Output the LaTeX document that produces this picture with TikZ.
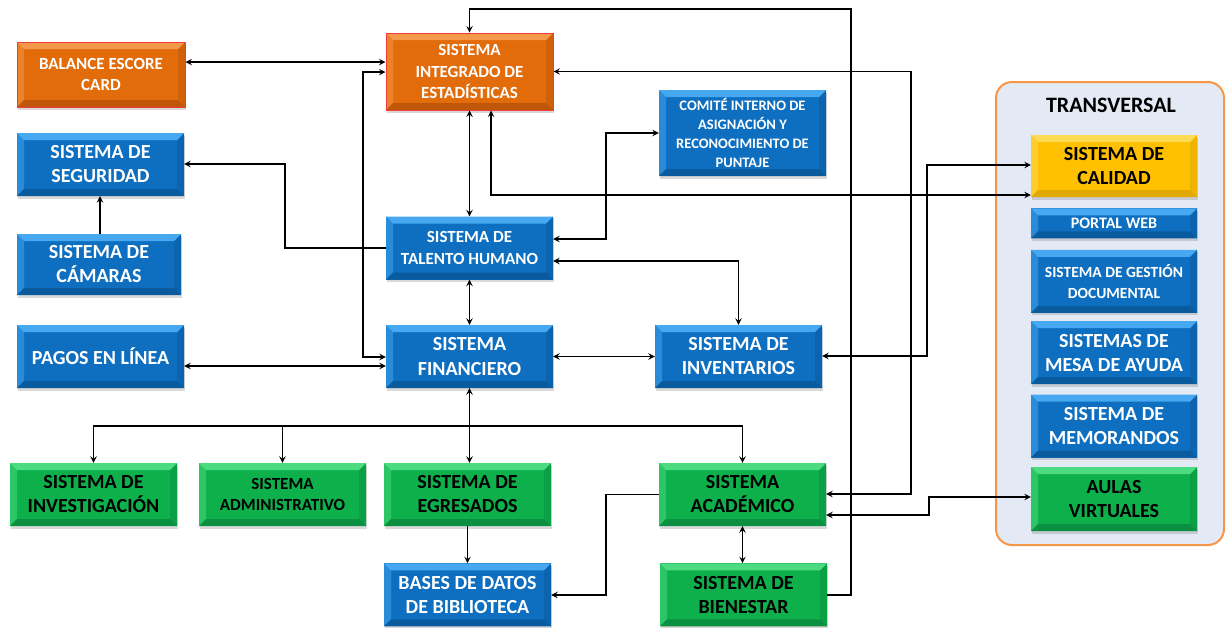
\documentclass[tikz,border=0pt]{standalone}
\usepackage{fontspec}
\setmainfont{Carlito}
\usetikzlibrary{positioning,shadows}

\definecolor{sysblue}{HTML}{0E6FC1}
\definecolor{sysbluetop}{HTML}{45A8F0}
\definecolor{sysbluebot}{HTML}{0A5A9E}
\definecolor{sysorange}{HTML}{E26B0A}
\definecolor{sysorangetop}{HTML}{F39A4A}
\definecolor{sysorangebot}{HTML}{C0560A}
\definecolor{sysred}{HTML}{F23A3A}
\definecolor{sysgreen}{HTML}{0DB04B}
\definecolor{sysgreentop}{HTML}{4DDB82}
\definecolor{sysgreenbot}{HTML}{0A9040}
\definecolor{sysyellow}{HTML}{FFC000}
\definecolor{sysyellowtop}{HTML}{FFDA55}
\definecolor{sysyellowbot}{HTML}{E0A800}
\definecolor{transfill}{HTML}{E4EAF5}
\definecolor{transline}{HTML}{F79646}

\begin{document}
\begin{tikzpicture}[x=1pt,y=-1pt]
		\tikzset{bevel/.style n args={3}{fill=#1,
								path picture={
									\fill[#2!50!#1] (path picture bounding box.north west) -- ([shift={(7pt,-7pt)}]path picture bounding box.north west) -- ([shift={(7pt,7pt)}]path picture bounding box.south west) -- (path picture bounding box.south west) -- cycle;
									\fill[#3!50!#1] (path picture bounding box.north east) -- ([shift={(-7pt,-7pt)}]path picture bounding box.north east) -- ([shift={(-7pt,7pt)}]path picture bounding box.south east) -- (path picture bounding box.south east) -- cycle;
									\fill[#2] (path picture bounding box.north west) -- (path picture bounding box.north east) -- ([shift={(-7pt,-7pt)}]path picture bounding box.north east) -- ([shift={(7pt,-7pt)}]path picture bounding box.north west) -- cycle;
									\fill[#3] (path picture bounding box.south west) -- (path picture bounding box.south east) -- ([shift={(-7pt,7pt)}]path picture bounding box.south east) -- ([shift={(7pt,7pt)}]path picture bounding box.south west) -- cycle;}},
				 sysbox/.style={rectangle,
								minimum width=167pt,
								minimum height=63pt,
								inner sep=1pt,
								align=center,
								font=\bfseries\fontsize{20}{24}\selectfont,
								drop shadow={shadow xshift=1pt, shadow yshift=-2.5pt, opacity=0.3}},
				 smalltext/.style={font=\bfseries\fontsize{17}{21.7}\selectfont},
				 bluesys/.style={sysbox, text=white, bevel={sysblue}{sysbluetop}{sysbluebot}},
				 orangesys/.style={sysbox, text=white, draw=sysred, line width=1pt, bevel={sysorange}{sysorangetop}{sysorangebot}},
				 greensys/.style={sysbox, text=black, bevel={sysgreen}{sysgreentop}{sysgreenbot}},
				 yellowsys/.style={sysbox, text=black, bevel={sysyellow}{sysyellowtop}{sysyellowbot}},
				 panel/.style={draw=transline, fill=transfill, line width=2pt, rounded corners=16pt},
				 arrow/.style={->,
							   >=stealth,
							   line width=1.8pt},
				 biarrow/.style={<->,
							   >=stealth,
							   line width=1.8pt}}
		\useasboundingbox (0,0) rectangle (1226,627);

		% Transversal panel
		\node[panel, minimum width=228pt, minimum height=463pt] (transpanel) at (1110,313.5) {};
		\node[font=\bfseries\fontsize{22}{26}\selectfont] (transversal) at (1111,105) {TRANSVERSAL};

		% Nodes
	    \node[orangesys, smalltext, minimum width=168pt, minimum height=65pt] (balance) at (101,74.5) {BALANCE ESCORE\\CARD};
	    \node[orangesys, smalltext, minimum height=77pt] (sie) at (469.5,71.5) {SISTEMA\\INTEGRADO DE\\ESTADÍSTICAS};
	    \node[bluesys, font=\bfseries\fontsize{14.5}{19}\selectfont, minimum height=86pt] (comite) at (742.5,133) {COMITÉ INTERNO DE\\ASIGNACIÓN Y\\RECONOCIMIENTO DE\\PUNTAJE};
	    \node[bluesys] (seguridad) at (100.5,164.5) {SISTEMA DE\\SEGURIDAD};
	    \node[bluesys, minimum width=164pt, minimum height=61pt] (camaras) at (99,264.5) {SISTEMA DE\\CÁMARAS};
	    \node[bluesys, smalltext] (talento) at (469.5,248) {SISTEMA DE\\TALENTO HUMANO};
	    \node[bluesys] (pagos) at (100.5,356.5) {PAGOS EN LÍNEA};
	    \node[bluesys, font=\bfseries\fontsize{20}{25}\selectfont] (financiero) at (469.5,356.5) {SISTEMA\\FINANCIERO};
	    \node[bluesys] (inventarios) at (738.5,356.5) {SISTEMA DE\\INVENTARIOS};
	    \node[greensys] (investigacion) at (93.5,494.5) {SISTEMA DE\\INVESTIGACIÓN};
	    \node[greensys, smalltext] (administrativo) at (282.5,494.5) {SISTEMA\\ADMINISTRATIVO};
	    \node[greensys] (egresados) at (467.5,494.5) {SISTEMA DE\\EGRESADOS};
	    \node[greensys] (academico) at (742.5,494.5) {SISTEMA\\ACADÉMICO};
	    \node[bluesys, below=37pt of egresados] (bases) {BASES DE DATOS\\DE BIBLIOTECA};
	    \node[greensys, below=37pt of academico, xshift=1pt] (bienestar) {SISTEMA DE\\BIENESTAR};

	    \node[yellowsys, minimum width=166pt, minimum height=62pt] (calidad) at (1114,166) {SISTEMA DE\\CALIDAD};
	    \node[bluesys, minimum width=166pt, minimum height=30pt, font=\bfseries\fontsize{16}{19}\selectfont, below=11pt of calidad] (portal) {PORTAL WEB};
	    \node[bluesys, minimum width=166pt, font=\bfseries\fontsize{15.5}{21}\selectfont, below=11pt of portal] (gestion) {SISTEMA DE GESTIÓN\\DOCUMENTAL};
	    \node[bluesys, minimum width=166pt, below=8pt of gestion] (mesa) {SISTEMAS DE\\MESA DE AYUDA};
	    \node[bluesys, minimum width=166pt, below=10pt of mesa] (memorandos) {SISTEMA DE\\MEMORANDOS};
	    \node[greensys, minimum width=166pt, minimum height=64pt, below=9pt of memorandos] (aulas) {AULAS\\VIRTUALES};

	    % Arrows
	    \draw[biarrow] (balance.east |- 0,62) -- (sie.west |- 0,62);
	    \draw[biarrow] (sie.west |- 0,72) -| (363,357) -- (financiero.west |- 0,357);
	    \draw[biarrow] (pagos.east |- 0,366) -- (financiero.west |- 0,366);
	    \draw[arrow] (talento.west) -| (285,164) -- (seguridad.east |- 0,164);
	    \draw[arrow] (camaras.north -| 100,0) -- (seguridad.south -| 100,0);
	    \draw[biarrow] (sie.south) -- (talento.north);
	    \draw[biarrow] (talento.south) -- (financiero.north);
	    \draw[biarrow] (491,0 |- sie.south) |- (calidad.west |- 0,195);
	    \draw[biarrow] (talento.east |- 0,239) -| (606,133) -- (comite.west);
	    \draw[biarrow] (talento.east |- 0,261) -| (inventarios.north);
	    \draw[arrow] (bienestar.east) -| (851,9) -| (sie.north);
	    \draw[biarrow] (sie.east) -| (911,494) -- (academico.east |- 0,494);
	    \draw[biarrow] (calidad.west |- 0,165) -| (927,356) -- (inventarios.east |- 0,356);
	    \draw[biarrow] (academico.east |- 0,515) -| (929,497) -- (aulas.west |- 0,497);
	    \draw[biarrow] (financiero.east) -- (inventarios.west);
	    \draw[biarrow] (financiero.south) -- (financiero.south |- egresados.north);
	    \draw[arrow] (financiero.south |- 0,426) -| (investigacion.north);
	    \draw[arrow] (financiero.south |- 0,426) -| (administrativo.north);
	    \draw[arrow] (financiero.south |- 0,426) -| (academico.north);
	    \draw[arrow] (egresados.south) -- (bases.north);
	    \draw[arrow] (academico.west) -| (606,595) -- (bases.east |- 0,595);
	    \draw[biarrow] (academico.south) -- (academico.south |- bienestar.north);
	\end{tikzpicture}
\end{document}
